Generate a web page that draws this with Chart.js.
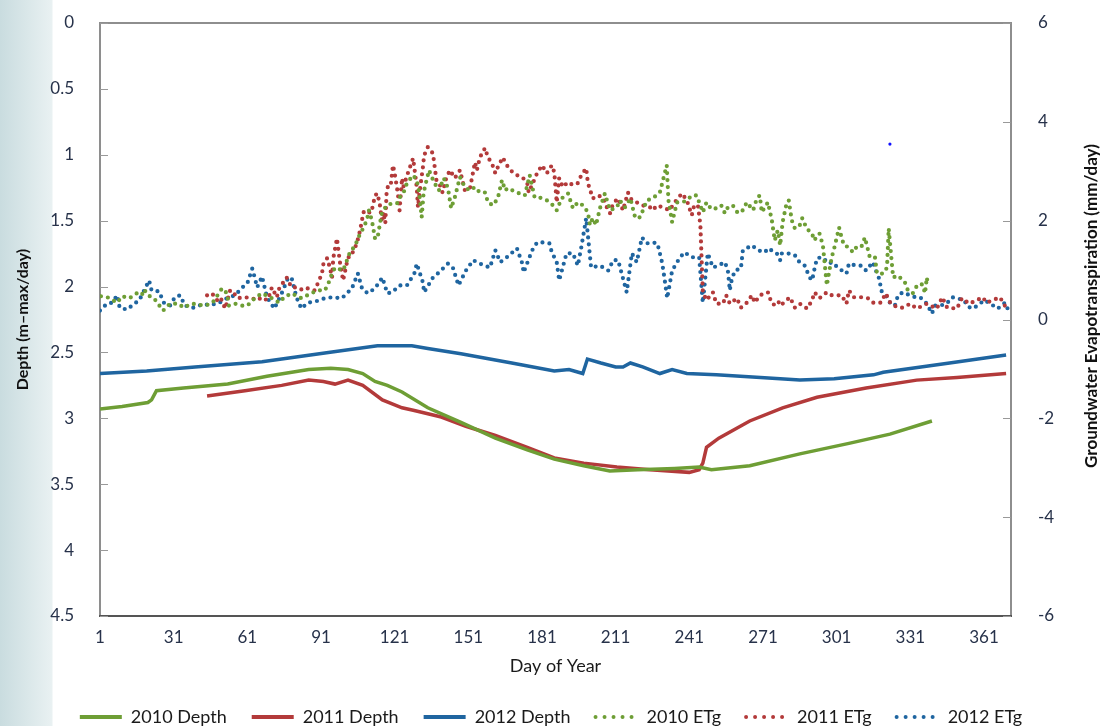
<!DOCTYPE html>
<html>
<head>
<meta charset="utf-8">
<script src="https://cdn.jsdelivr.net/npm/chart.js@4/dist/chart.umd.min.js"></script>
<style>
  html, body { margin: 0; padding: 0; }
  body {
    width: 1102px; height: 726px; overflow: hidden;
    background: linear-gradient(to right, #c9dcdf 0px, #e9f1f2 52px, #ffffff 53px);
  }
  #wrap { position: relative; width: 1102px; height: 726px; }
  canvas { display: block; }
</style>
</head>
<body>
<div id="wrap"><canvas id="chart" width="1102" height="726"></canvas></div>
<script>
// day of year tick labels
const dayTicks = [1, 31, 61, 91, 121, 151, 181, 211, 241, 271, 301, 331, 361];

// water table depth (m)
const depth2010 = [[1,2.93],[10,2.91],[20.5,2.88],[22,2.86],[24,2.79],[35,2.77],[53,2.74],[69,2.68],[86,2.63],[95,2.62],
  [102,2.63],[108,2.66],[113,2.72],[118,2.75],[124,2.80],[134.5,2.92],[148,3.03],[162,3.15],[175,3.24],[186,3.31],
  [198,3.36],[208.6,3.40],[220,3.39],[235,3.38],[245,3.37],[250,3.39],[265.6,3.36],[286,3.27],[306,3.19],[322.7,3.12],[339.8,3.02]];
const depth2011 = [[44.6,2.83],[60,2.79],[75,2.75],[86,2.71],[92,2.72],[96.7,2.74],[102,2.71],[108,2.75],[116,2.86],[124,2.92],
  [129,2.94],[140,2.99],[150,3.06],[162,3.13],[175,3.22],[186,3.30],[198,3.34],[211.5,3.37],[225,3.39],[241,3.41],
  [245,3.39],[246.5,3.34],[248,3.22],[253,3.15],[265.6,3.02],[279,2.92],[293,2.84],[313,2.77],[333.6,2.71],[350,2.69],[370,2.66]];
const depth2012 = [[1,2.66],[20,2.64],[39.7,2.61],[67,2.57],[94,2.50],[114,2.45],[128,2.45],[134.5,2.47],[148,2.51],[168.7,2.58],
  [186,2.64],[192,2.63],[197.6,2.66],[199.5,2.55],[205,2.58],[211,2.61],[214,2.61],[217,2.58],[222,2.61],[229,2.66],
  [234,2.63],[240,2.66],[252,2.67],[270,2.69],[286,2.71],[300,2.70],[316,2.67],[320,2.65],[347,2.58],[370,2.52]];

// groundwater evapotranspiration (mm/day)
const etg2010 = [[1.4,0.47],[4,0.45],[8,0.34],[10,0.47],[13,0.43],[16,0.53],[18,0.49],[19,0.61],[20.5,0.49],[23,0.43],
  [24.6,0.32],[26.7,0.18],[29.5,0.32],[33,0.32],[35,0.24],[38.5,0.32],[41,0.30],[44,0.28],[47,0.35],[50.7,0.63],
  [52.7,0.53],[53.5,0.28],[56,0.32],[59,0.28],[61,0.28],[64,0.43],[67,0.53],[71,0.43],[74,0.34],[76,0.45],
  [79,0.53],[83,0.43],[87,0.53],[89.8,0.59],[92.6,0.59],[94,0.73],[95.5,0.93],[96.7,1.05],[100,0.99],[101.6,1.20],
  [102.8,1.36],[105,1.50],[106,1.64],[107.7,1.80],[109.7,2.01],[110.5,2.21],[111.7,2.01],[112.3,1.84],[113,1.64],[114,1.64],
  [115.8,2.17],[117,2.25],[117.7,2.31],[120,2.35],[122,2.35],[123,2.47],[124.5,2.55],[126,2.76],[128.5,2.92],[130,2.82],
  [131,2.57],[132,2.07],[132.8,2.57],[134,2.82],[135,3.02],[137,2.78],[139,2.61],[141,2.86],[142.7,2.66],[144,2.25],
  [145.5,2.47],[147.6,2.88],[149.6,2.68],[151.7,2.61],[153.7,2.68],[155.7,2.57],[157.8,2.57],[159,2.37],[161,2.31],[163,2.45],
  [164.7,2.82],[166,2.61],[167,2.66],[170.8,2.57],[174,2.51],[176,2.92],[178,2.47],[180,2.47],[183,2.41],[185.5,2.31],
  [187,2.21],[189,2.45],[191.6,2.55],[193.6,2.25],[195.6,2.37],[197.7,2.31],[199.7,2.17],[200.5,1.91],[201.7,2.05],[203,1.91],
  [204.6,2.25],[206.6,2.55],[208.7,2.21],[211.5,2.27],[212.7,2.41],[214.8,2.27],[217,2.45],[219,2.05],[221,2.07],[223.7,2.41],
  [226,2.45],[229,2.57],[231.8,3.12],[232.5,2.41],[234,1.97],[236,2.37],[238,2.37],[240,2.41],[242,2.51],[244,2.51],
  [246.5,2.17],[248,2.37],[250,2.23],[252,2.25],[254,2.31],[255.5,2.15],[256.7,2.27],[258.7,2.31],[260.8,2.15],[262.8,2.21],
  [264.4,2.37],[267,2.21],[268.5,2.45],[269.7,2.51],[270.5,2.17],[273,2.37],[274.6,2.01],[275.8,1.60],[277,1.80],[278,1.50],
  [279,1.97],[280.7,2.37],[281.5,2.41],[282.7,2.01],[284,1.84],[286,1.91],[287,2.05],[288.8,1.84],[291,1.74],[291.8,1.60],
  [294,1.74],[295.4,1.50],[297,0.69],[299,1.26],[300,1.44],[302,1.86],[303,1.66],[304,1.50],[306,1.46],[307.6,1.36],
  [309,1.46],[311,1.46],[312.5,1.66],[314.5,1.26],[316.6,1.26],[317.4,0.93],[320,0.93],[321.5,1.05],[322.2,1.84],[324,0.85],
  [326,0.89],[328.8,0.75],[330,0.59],[332,0.53],[334,0.71],[336,0.71],[337,0.53],[337.7,0.85],[338.3,0.67]];
const etg2011 = [[44.6,0.49],[46.6,0.53],[48.6,0.39],[50,0.45],[52,0.22],[54,0.59],[55,0.57],[57,0.43],[60,0.45],[63,0.43],
  [65,0.39],[67,0.45],[69,0.39],[70,0.49],[71,0.65],[73,0.45],[74,0.63],[77,0.85],[79,0.65],[81.6,0.65],
  [83.6,0.59],[85.6,0.63],[88.5,0.59],[91.4,0.93],[92,1.13],[93.5,1.24],[94.6,1.05],[95.5,0.85],[96,1.24],[97.5,1.64],
  [98.7,1.16],[100,0.79],[101.6,1.16],[102.8,1.34],[104,1.36],[105.6,1.54],[106.9,1.80],[107.7,2.01],[108.3,2.17],[109.7,2.21],
  [111,2.15],[112,2.27],[113,2.51],[114,2.55],[115,2.31],[115.8,2.01],[116.4,2.17],[117.2,1.95],[117.7,2.55],[118.5,2.76],
  [119.5,2.76],[120.3,3.12],[121,2.96],[122.3,2.55],[123,2.21],[124,2.86],[124.5,2.68],[126.5,2.98],[128.5,3.26],[129,3.08],
  [130,2.68],[130.5,2.27],[131,2.51],[132.5,3.08],[133,3.32],[134.5,3.49],[136.6,3.36],[138,2.82],[139,2.78],[140.5,2.57],
  [142,2.86],[143.5,3.02],[145.5,2.86],[147.6,3.02],[149.6,2.61],[151.7,2.66],[153.7,3.18],[154.5,3.02],[155.7,3.28],[157.8,3.47],
  [159,3.28],[160.6,3.16],[162,2.96],[163,3.08],[165,3.28],[166.7,3.12],[169,2.98],[170.8,2.92],[173,2.88],[175,2.76],
  [175.6,2.57],[177.3,2.76],[179,2.96],[181,3.12],[183,2.96],[185,3.12],[186,2.98],[187,2.37],[188,2.86],[189.5,2.68],
  [191.6,2.78],[193.6,2.72],[195.6,2.76],[197,2.92],[199,3.06],[199.7,2.76],[201.7,2.45],[203.8,2.51],[205.8,2.47],[207.4,2.27],
  [208.7,2.15],[210,2.35],[212,2.45],[214,2.21],[216,2.57],[217.6,2.41],[219.6,2.37],[222,2.31],[225,2.27],[226,2.21],
  [228,2.31],[231,2.25],[233,2.21],[235,2.37],[238,2.55],[240,2.41],[242,2.11],[243,2.31],[244.5,2.31],[245.5,1.91],
  [246.5,0.55],[248,0.39],[250.6,0.55],[252,0.32],[254.7,0.32],[256,0.49],[257.5,0.32],[260.4,0.43],[262,0.24],[264.4,0.34],
  [266.5,0.49],[267.7,0.34],[269.7,0.49],[273,0.55],[274.6,0.32],[276.6,0.28],[277.9,0.39],[279,0.32],[282,0.45],[284,0.24],
  [286,0.32],[289,0.22],[291,0.39],[292,0.55],[294,0.43],[297,0.55],[299,0.49],[303,0.49],[305,0.32],[306,0.59],
  [308,0.45],[311,0.45],[313.7,0.43],[315.7,0.34],[319,0.34],[321,0.53],[323,0.32],[326,0.24],[328,0.24],[331,0.32],
  [333.6,0.22],[337.7,0.32],[341.8,0.22],[344,0.45],[346,0.24],[350,0.22],[352,0.43],[355,0.32],[358,0.39],[360.5,0.45],
  [362,0.34],[367.5,0.45],[369.5,0.28]];
const etg2012 = [[1,0.18],[3.8,0.32],[6,0.34],[8,0.49],[9,0.24],[12,0.20],[15,0.32],[17,0.39],[21,0.79],[22,0.59],
  [25,0.57],[27,0.34],[29.5,0.28],[31.5,0.45],[33.6,0.49],[35.6,0.28],[39,0.24],[42.5,0.30],[45.8,0.30],[49,0.32],
  [52.7,0.43],[56,0.49],[59,0.65],[61,0.73],[63,1.03],[64,0.85],[65,0.65],[67,0.87],[69,0.45],[72,0.22],
  [75,0.53],[77.5,0.83],[79,0.85],[81,0.45],[83,0.22],[85.6,0.34],[88.5,0.36],[92.6,0.43],[95.5,0.45],[99.5,0.43],
  [103.6,0.63],[106,0.93],[107.7,0.63],[110,0.53],[113,0.63],[116,0.85],[117,0.69],[118,0.53],[120,0.55],[123,0.69],
  [126,0.69],[129,0.93],[130,1.13],[132.5,0.75],[133,0.55],[136.6,0.85],[139,0.95],[142.7,1.13],[144.7,1.05],[147,0.69],
  [150,0.99],[153,1.20],[155.7,1.13],[159.8,1.05],[162,1.40],[164,1.16],[166.7,1.26],[170.8,1.44],[173,1.13],[173.5,0.95],
  [177,1.40],[179,1.56],[181,1.56],[184,1.54],[185,1.36],[187,1.16],[188,0.79],[191,1.34],[193.6,1.34],[195.6,1.09],
  [197,1.46],[199,2.05],[200.5,1.30],[201,1.05],[204.6,1.09],[208,0.99],[210,1.20],[212,1.20],[214,0.83],[215.5,0.55],
  [217.6,1.34],[219.6,1.16],[221.7,1.66],[223.7,1.54],[225.8,1.56],[228,1.54],[229,1.34],[230,1.13],[231,0.79],[232,0.43],
  [234,0.99],[237,1.24],[239,1.36],[242,1.26],[245,1.26],[246.5,0.34],[248.5,1.34],[250.6,1.05],[252.6,1.09],[255.5,1.16],
  [256.7,0.99],[257.5,0.59],[258,0.75],[259.5,0.99],[262,1.03],[262.8,1.40],[266.5,1.50],[269,1.40],[271.8,1.36],[273,1.44],
  [276.6,1.34],[278,1.20],[278.7,1.34],[281,1.34],[284,1.30],[285,1.20],[288,1.09],[290,0.85],[291,0.79],[292,1.03],
  [293,1.24],[295,1.26],[298,1.13],[299,1.16],[302,1.03],[305,0.93],[306,1.13],[309,1.09],[311,1.09],[313,0.99],
  [315.7,1.16],[317,0.99],[318.6,0.79],[319,0.59],[321,0.49],[322.7,0.34],[324.7,0.28],[326,0.49],[328,0.55],[330.8,0.49],
  [333,0.45],[335,0.45],[337.7,0.32],[339.8,0.12],[341,0.28],[343,0.28],[345.8,0.32],[348,0.45],[350,0.43],[353,0.39],
  [354,0.28],[356,0.22],[358.5,0.28],[361,0.39],[363,0.34],[366.6,0.22],[369.5,0.34],[371,0.18]];
// stray single point near the top right
const strayPoint = [[322.7,3.55]];

const GREEN = "#6e9e35", RED = "#b33a3a", BLUE = "#1f65a0";
const FONT = "Lato, 'Open Sans', sans-serif";

function xy(arr) {
  return arr.map(p => ({ x: p[0], y: p[1] }));
}

function depthSet(label, data, color) {
  return { label: label, data: xy(data), yAxisID: "y", borderColor: color, backgroundColor: color,
    borderWidth: 3.5, pointRadius: 0, tension: 0, fill: false };
}
function etgSet(label, data, color) {
  return { label: label, data: xy(data), yAxisID: "y2", borderColor: color, backgroundColor: color,
    borderWidth: 4.2, borderDash: [0, 7], borderCapStyle: "round", borderJoinStyle: "round",
    pointRadius: 0, tension: 0, fill: false, dotted: true };
}

// frame, inside tick marks and the right axis title
const framePlugin = {
  id: "frame",
  beforeDatasetsDraw(chart) {
    const a = chart.chartArea, c = chart.ctx;
    c.save();
    c.fillStyle = "#ffffff";
    c.fillRect(a.left, a.top, a.right - a.left, a.bottom - a.top);
    c.strokeStyle = "#8e8e8e";
    c.lineWidth = 2;
    c.beginPath();
    c.moveTo(a.left, a.bottom); c.lineTo(a.left, a.top); c.lineTo(a.right, a.top); c.lineTo(a.right, a.bottom);
    c.stroke();
    c.strokeStyle = "#555555";
    c.beginPath(); c.moveTo(a.left - 1, a.bottom); c.lineTo(a.right + 1, a.bottom); c.stroke();
    c.strokeStyle = "#999999";
    c.lineWidth = 1;
    const yl = chart.scales.y, yr = chart.scales.y2;
    yl.ticks.forEach(t => {
      const py = Math.round(yl.getPixelForValue(t.value)) + 0.5;
      c.beginPath(); c.moveTo(a.left, py); c.lineTo(a.left + 8, py); c.stroke();
    });
    yr.ticks.forEach(t => {
      const py = Math.round(yr.getPixelForValue(t.value)) + 0.5;
      c.beginPath(); c.moveTo(a.right - 8, py); c.lineTo(a.right, py); c.stroke();
    });
    c.restore();
  },
  afterDraw(chart) {
    const c = chart.ctx;
    c.save();
    c.translate(1092, 306);
    c.rotate(-Math.PI / 2);
    c.font = "bold 17px " + FONT;
    c.fillStyle = "#111111";
    c.textAlign = "center";
    c.textBaseline = "middle";
    c.fillText("Groundwater Evapotranspiration (mm/day)", 0, 0);
    c.restore();
  }
};

const tickFont = { family: FONT, size: 17 };
const plainNumber = v => String(Number(v.toFixed(2)));
function fitY(width) {
  return scale => {
    scale.width = width;
    scale.paddingTop = 0;
    scale.paddingBottom = 0;
  };
}

new Chart(document.getElementById("chart"), {
  type: "line",
  data: {
    datasets: [
      depthSet("2010 Depth", depth2010, GREEN),
      depthSet("2011 Depth", depth2011, RED),
      depthSet("2012 Depth", depth2012, BLUE),
      etgSet("2010 ETg", etg2010, GREEN),
      etgSet("2011 ETg", etg2011, RED),
      etgSet("2012 ETg", etg2012, BLUE),
      { label: "", data: xy(strayPoint), yAxisID: "y2", showLine: false, pointRadius: 1.6,
        pointBorderWidth: 0, pointBackgroundColor: "#1010ff", borderColor: "#1010ff", stray: true }
    ]
  },
  options: {
    responsive: false,
    animation: false,
    devicePixelRatio: 1,
    layout: { padding: { left: 0, right: 0, top: 23, bottom: -10 } },
    plugins: {
      tooltip: { enabled: false },
      legend: {
        position: "bottom",
        labels: {
          font: { family: FONT, size: 18 },
          color: "#1a1a1a",
          usePointStyle: true,
          pointStyleWidth: 42,
          boxHeight: 4,
          padding: 25,
          generateLabels(chart) {
            return chart.data.datasets.filter(d => !d.stray).map(d => ({
              text: d.label,
              fillStyle: "rgba(0,0,0,0)",
              strokeStyle: d.borderColor,
              lineWidth: 4,
              lineDash: d.dotted ? [0, 9] : [],
              lineCap: d.dotted ? "round" : "butt",
              pointStyle: "line",
              hidden: false,
              fontColor: "#1a1a1a"
            }));
          }
        }
      }
    },
    scales: {
      x: {
        type: "linear",
        min: 1, max: 372,
        afterBuildTicks(scale) { scale.ticks = dayTicks.map(v => ({ value: v })); },
        afterFit(scale) { scale.height = 67; },
        grid: { display: false },
        border: { display: false },
        ticks: { font: tickFont, color: "#27324a", padding: 3, maxRotation: 0, autoSkip: false },
        title: { display: true, text: "Day of Year", font: { family: FONT, size: 18 }, color: "#1a1a1a",
          padding: { top: 4, bottom: 6 } }
      },
      y: {
        type: "linear",
        position: "left",
        reverse: true,
        min: 0, max: 4.5,
        afterFit: fitY(100),
        grid: { display: false },
        border: { display: false },
        ticks: { stepSize: 0.5, font: tickFont, color: "#27324a", padding: 18, callback: plainNumber },
        title: { display: true, text: "Depth (m\u2013max/day)", font: { family: FONT, size: 16, weight: "bold" },
          color: "#111111", padding: { top: 13, bottom: 0 } }
      },
      y2: {
        type: "linear",
        position: "right",
        min: -6, max: 6,
        afterFit: fitY(91),
        grid: { display: false },
        border: { display: false },
        ticks: { stepSize: 2, font: tickFont, color: "#27324a", padding: 19, callback: plainNumber }
      }
    }
  },
  plugins: [framePlugin]
});
</script>
</body>
</html>
